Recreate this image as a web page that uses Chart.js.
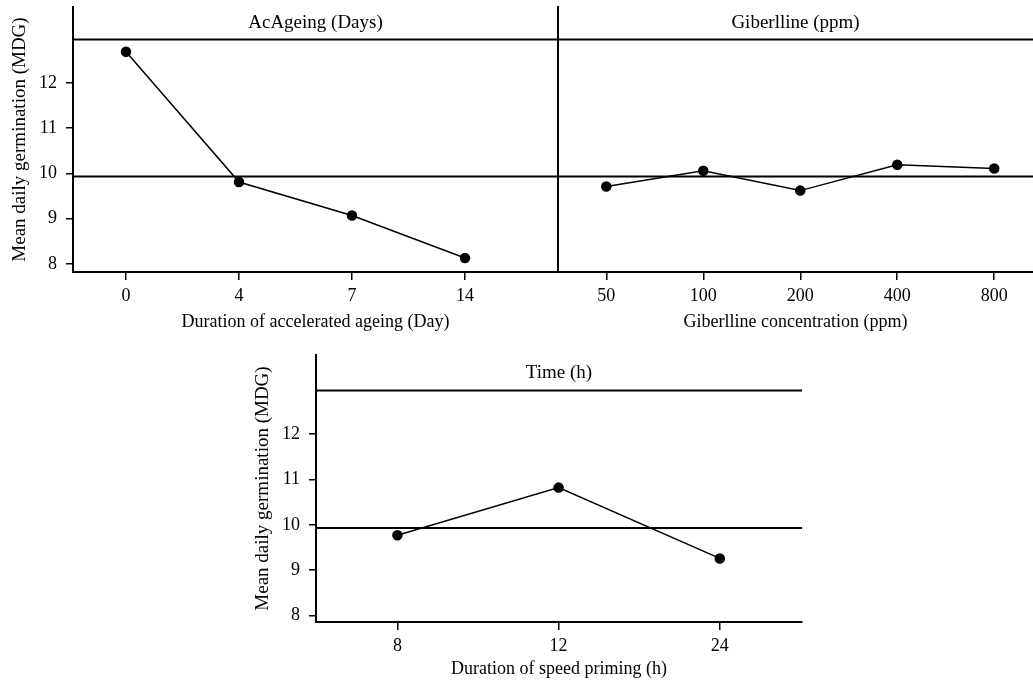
<!DOCTYPE html>
<html>
<head>
<meta charset="utf-8">
<script src="https://cdn.jsdelivr.net/npm/chart.js@4"></script>
<style>
  html, body { margin: 0; padding: 0; background: #fff; }
  body { width: 1033px; height: 683px; position: relative; overflow: hidden; }
  .box { position: absolute; }
</style>
</head>
<body>
<div class="box" style="left:0;top:0;width:558px;height:335px"><canvas id="ageChart"></canvas></div>
<div class="box" style="left:556px;top:0;width:477px;height:335px"><canvas id="gibChart"></canvas></div>
<div class="box" style="left:243px;top:348px;width:561px;height:335px"><canvas id="timeChart"></canvas></div>
<script>
// categories
const ageDays = ["0", "4", "7", "14"];
const gibPpm = ["50", "100", "200", "400", "800"];
const primeHours = ["8", "12", "24"];
// mean daily germination for each level
const ageMdg = [12.69, 9.81, 9.07, 8.13];
const gibMdg = [9.71, 10.06, 9.62, 10.19, 10.11];
const primeMdg = [9.77, 10.82, 9.26];
// reference lines: grand mean and the top of the panel header
const grandMean = 9.93;
const headerLine = 12.96;
// y tick labels
const yTicks = [8, 9, 10, 11, 12];

const FONT = "'Liberation Serif', 'Times New Roman', serif";
Chart.defaults.font.family = FONT;
Chart.defaults.font.size = 18;
Chart.defaults.color = "#000";
Chart.defaults.animation = false;

// draws the panel label above the header line
const facetLabel = {
  id: "facetLabel",
  afterDraw(chart, args, opts) {
    const area = chart.chartArea;
    const yLine = chart.scales.y.getPixelForValue(headerLine);
    const ctx = chart.ctx;
    ctx.save();
    ctx.font = "19px " + FONT;
    ctx.fillStyle = "#000";
    ctx.textAlign = "center";
    ctx.textBaseline = "middle";
    ctx.fillText(opts.text, (area.left + area.right) / 2, (area.top + yLine) / 2);
    ctx.restore();
  }
};

function noPad(s) {
  s.paddingTop = 0;
  s.paddingBottom = 0;
  s.paddingLeft = 0;
  s.paddingRight = 0;
}

function makeChart(id, labels, values, cfg) {
  const refLine = (y) => ({
    data: [{ x: cfg.xMin, y: y }, { x: cfg.xMax, y: y }],
    borderColor: "#000",
    borderWidth: 2,
    pointRadius: 0,
    clip: false,
  });
  return new Chart(document.getElementById(id), {
    type: "line",
    data: {
      datasets: [
        {
          data: values.map((v, i) => ({ x: i, y: v })),
          borderColor: "#000",
          backgroundColor: "#000",
          borderWidth: 1.5,
          pointRadius: 4.5,
          pointHoverRadius: 4.5,
        },
        refLine(grandMean),
        refLine(headerLine),
      ],
    },
    options: {
      responsive: true,
      maintainAspectRatio: false,
      layout: { autoPadding: false, padding: { top: 7, right: cfg.padRight, left: 0, bottom: 0 } },
      plugins: {
        legend: { display: false },
        tooltip: { enabled: false },
        facetLabel: { text: cfg.facet },
      },
      scales: {
        x: {
          type: "linear",
          min: cfg.xMin,
          max: cfg.xMax,
          afterBuildTicks: (s) => { s.ticks = labels.map((l, i) => ({ value: i })); },
          afterFit: (s) => { s.height = cfg.xHeight; noPad(s); },
          ticks: {
            callback: (v) => labels[v],
            autoSkip: false,
            maxRotation: 0,
            padding: 5,
          },
          grid: { display: true, drawOnChartArea: false, tickLength: 8, color: "#000", lineWidth: 1.5 },
          border: { display: true, color: "#000", width: 2 },
          title: { display: true, text: cfg.xTitle, padding: { top: 0, bottom: cfg.titlePad } },
        },
        y: {
          min: cfg.yMin,
          max: cfg.yMax,
          afterBuildTicks: (s) => { s.ticks = yTicks.map((v) => ({ value: v })); },
          afterFit: (s) => { s.width = cfg.yWidth; noPad(s); },
          ticks: { display: cfg.yLabels, padding: 9 },
          grid: { display: cfg.yLabels, drawOnChartArea: false, tickLength: 7, color: "#000", lineWidth: 1.5 },
          border: { display: true, color: "#000", width: 2 },
          title: {
            display: cfg.yLabels,
            text: "Mean daily germination (MDG)",
            font: { size: 19 },
            padding: { top: 9, bottom: 0 },
          },
        },
      },
    },
    plugins: [facetLabel],
  });
}

makeChart("ageChart", ageDays, ageMdg, {
  xMin: -0.469, xMax: 3.823, yMin: 7.82, yMax: 13.68,
  xHeight: 63, yWidth: 73, yLabels: true, padRight: 0, titlePad: 2,
  xTitle: "Duration of accelerated ageing (Day)", facet: "AcAgeing (Days)",
});

makeChart("gibChart", gibPpm, gibMdg, {
  xMin: -0.498, xMax: 4.40, yMin: 7.82, yMax: 13.68,
  xHeight: 63, yWidth: 2, yLabels: false, padRight: 0, titlePad: 2,
  xTitle: "Giberlline concentration (ppm)", facet: "Giberlline (ppm)",
});

makeChart("timeChart", primeHours, primeMdg, {
  xMin: -0.505, xMax: 2.51, yMin: 7.86, yMax: 13.74,
  xHeight: 61, yWidth: 73, yLabels: true, padRight: 2, titlePad: 3,
  xTitle: "Duration of speed priming (h)", facet: "Time (h)",
});
</script>
</body>
</html>
